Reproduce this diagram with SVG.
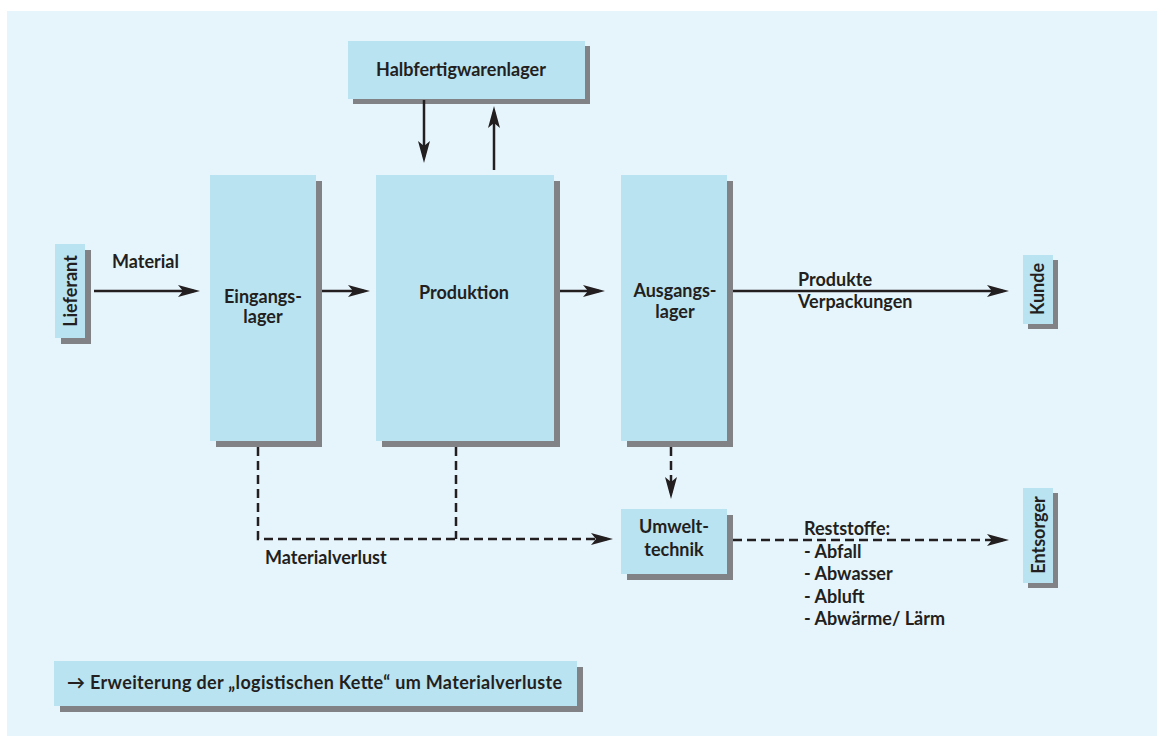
<svg xmlns="http://www.w3.org/2000/svg" width="1163" height="736" viewBox="0 0 1163 736">
  <style>
    .box { fill: #b9e3f1; }
    .shadow { fill: #818285; }
    .lbl { font-family: Lato, "Liberation Sans", sans-serif; font-weight: 700; font-size: 18px; fill: #231f20; }
    .mid { text-anchor: middle; }
    .flow { stroke: #231f20; stroke-width: 2.5; fill: none; }
    .loss { stroke: #231f20; stroke-width: 2.5; fill: none; stroke-dasharray: 9 5; }
  </style>
  <defs>
    <marker id="head" markerUnits="userSpaceOnUse" markerWidth="22" markerHeight="12" refX="16" refY="6" orient="auto">
      <path d="M0,0 L22,6 L0,12 L5,6 z" fill="#231f20"/>
    </marker>
  </defs>

  <!-- background panel -->
  <rect x="7" y="11" width="1150" height="725" fill="#e6f5fb"/>

  <!-- nodes -->
  <g id="halbfertigwarenlager">
    <rect class="shadow" x="353" y="46" width="237" height="58"/>
    <rect class="box" x="348" y="41" width="237" height="58"/>
    <text class="lbl" x="376" y="76">Halbfertigwarenlager</text>
  </g>

  <g id="lieferant">
    <rect class="shadow" x="61" y="250" width="30" height="94"/>
    <rect class="box" x="55" y="244" width="30" height="94"/>
    <text class="lbl mid" transform="translate(77,291) rotate(-90)">Lieferant</text>
  </g>

  <g id="eingangslager">
    <rect class="shadow" x="216" y="181" width="106" height="266"/>
    <rect class="box" x="210" y="175" width="106" height="266"/>
    <text class="lbl mid" x="263" y="303">Eingangs-</text>
    <text class="lbl mid" x="263" y="323">lager</text>
  </g>

  <g id="produktion">
    <rect class="shadow" x="382" y="181" width="178" height="266"/>
    <rect class="box" x="376" y="175" width="178" height="266"/>
    <text class="lbl mid" x="464" y="299">Produktion</text>
  </g>

  <g id="ausgangslager">
    <rect class="shadow" x="627" y="181" width="106" height="266"/>
    <rect class="box" x="621" y="175" width="106" height="266"/>
    <text class="lbl mid" x="675" y="297">Ausgangs-</text>
    <text class="lbl mid" x="675" y="318">lager</text>
  </g>

  <g id="kunde">
    <rect class="shadow" x="1028" y="260" width="30" height="69"/>
    <rect class="box" x="1023" y="255" width="30" height="69"/>
    <text class="lbl mid" transform="translate(1044,289) rotate(-90)">Kunde</text>
  </g>

  <g id="umwelttechnik">
    <rect class="shadow" x="627" y="515" width="106" height="65"/>
    <rect class="box" x="621" y="509" width="106" height="65"/>
    <text class="lbl mid" x="674" y="533">Umwelt-</text>
    <text class="lbl mid" x="674" y="556">technik</text>
  </g>

  <g id="entsorger">
    <rect class="shadow" x="1028" y="493" width="30" height="95"/>
    <rect class="box" x="1023" y="488" width="30" height="95"/>
    <text class="lbl mid" transform="translate(1045,535) rotate(-90)">Entsorger</text>
  </g>

  <g id="hinweis">
    <rect class="shadow" x="60" y="667" width="523" height="45"/>
    <rect class="box" x="54" y="661" width="523" height="45"/>
    <text class="lbl" x="67" y="689" textLength="495" lengthAdjust="spacing">→ Erweiterung der „logistischen Kette“ um Materialverluste</text>
  </g>

  <!-- connectors -->
  <g id="connectors">
    <line class="flow" x1="94" y1="291" x2="194" y2="291" marker-end="url(#head)"/>
    <line class="flow" x1="322" y1="291" x2="364" y2="291" marker-end="url(#head)"/>
    <line class="flow" x1="560" y1="291" x2="599" y2="291" marker-end="url(#head)"/>
    <line class="flow" x1="733" y1="291" x2="1003" y2="291" marker-end="url(#head)"/>
    <line class="flow" x1="424" y1="100" x2="424" y2="157" marker-end="url(#head)"/>
    <line class="flow" x1="494" y1="170" x2="494" y2="112" marker-end="url(#head)"/>

    <polyline class="loss" points="258,447 258,539 607,539" marker-end="url(#head)"/>
    <line class="loss" x1="456" y1="447" x2="456" y2="539"/>
    <line class="loss" x1="671" y1="447" x2="671" y2="493" marker-end="url(#head)"/>
    <line class="loss" x1="733" y1="540" x2="1003" y2="540" marker-end="url(#head)"/>

    <text class="lbl" x="112" y="268">Material</text>
    <text class="lbl" x="798" y="286">Produkte</text>
    <text class="lbl" x="798" y="308">Verpackungen</text>
    <text class="lbl" x="265" y="564">Materialverlust</text>
    <text class="lbl" x="804" y="535">Reststoffe:</text>
    <text class="lbl" x="804" y="558">- Abfall</text>
    <text class="lbl" x="804" y="580">- Abwasser</text>
    <text class="lbl" x="804" y="603">- Abluft</text>
    <text class="lbl" x="804" y="625">- Abwärme/ Lärm</text>
  </g>
</svg>
